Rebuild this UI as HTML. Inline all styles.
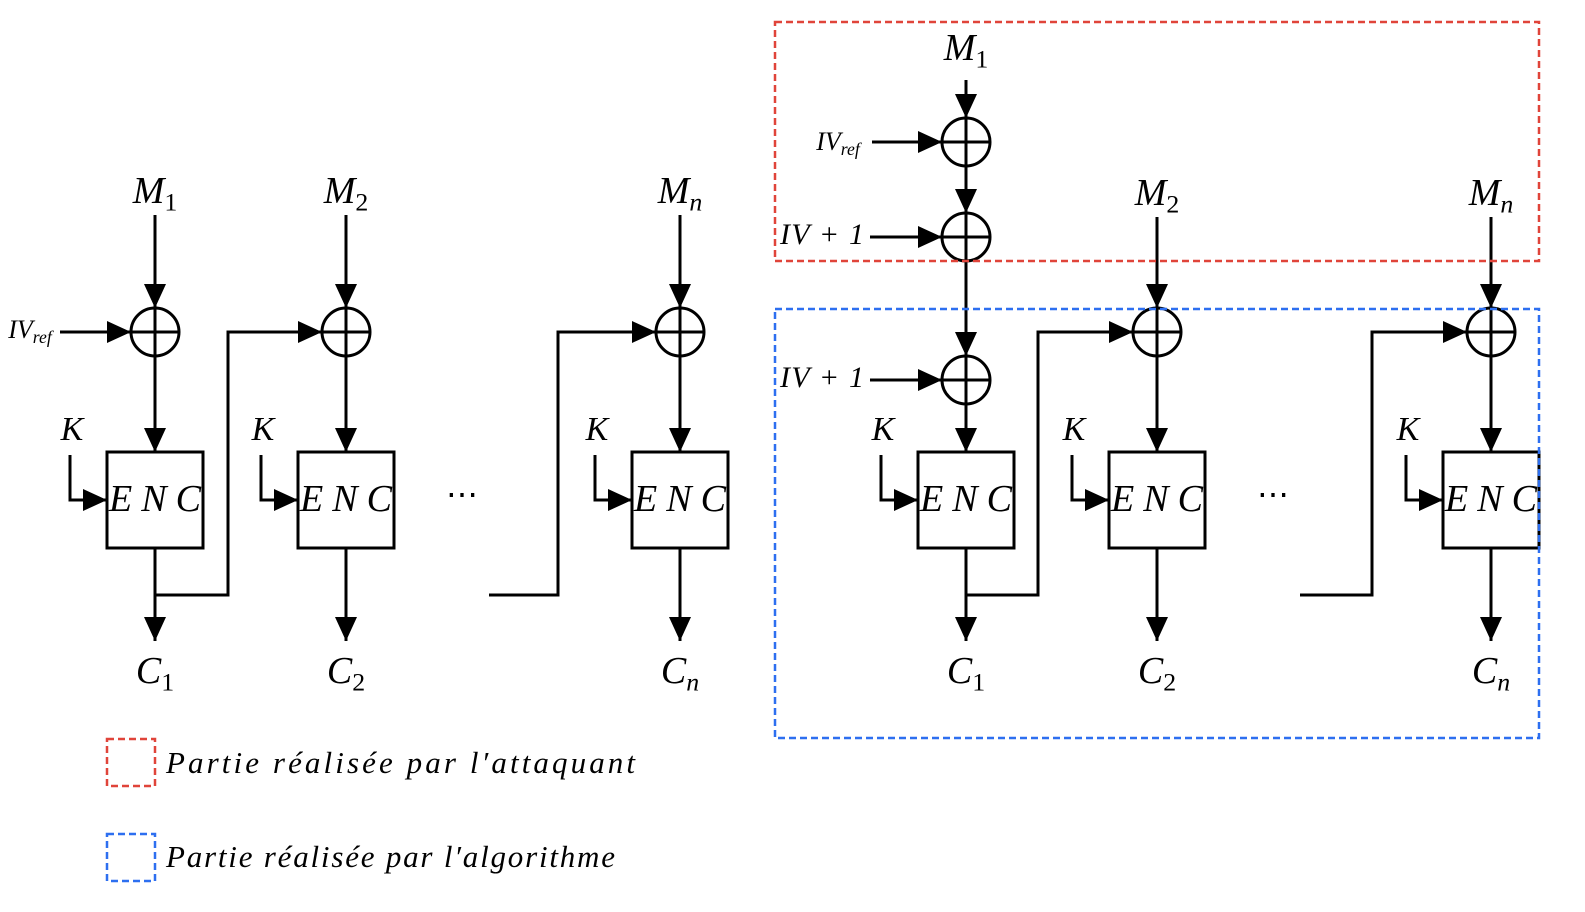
<!DOCTYPE html>
<html><head><meta charset="utf-8"><style>
html,body{margin:0;padding:0;background:#fff;}
svg{display:block;}
text{font-family:"Liberation Serif",serif;font-style:italic;fill:#000;}
.up{font-style:normal;}
</style></head><body>
<svg width="1585" height="912" viewBox="0 0 1585 912">
<defs>
<marker id="ah" markerWidth="24" markerHeight="22" refX="24" refY="11" orient="auto" markerUnits="userSpaceOnUse">
<path d="M0,0 L24,11 L0,22 Z" fill="#000"/>
</marker>
</defs>
<g id="g" stroke="#000" stroke-width="3" fill="none"></g>
<g id="t"></g>
<rect x="775" y="22" width="764" height="239" fill="none" stroke="#e0443a" stroke-width="2.5" stroke-dasharray="7,4"/>
<rect x="775" y="309" width="764" height="429" fill="none" stroke="#2d6ff0" stroke-width="2.5" stroke-dasharray="7,4"/>
<rect x="107" y="739" width="48" height="47" fill="none" stroke="#e0443a" stroke-width="2.5" stroke-dasharray="7,4"/>
<rect x="107" y="834" width="48" height="47" fill="none" stroke="#2d6ff0" stroke-width="2.5" stroke-dasharray="7,4"/>
<text x="166" y="773" font-size="31" textLength="469" lengthAdjust="spacing">Partie réalisée par l′attaquant</text>
<text x="166" y="867" font-size="31" textLength="449" lengthAdjust="spacing">Partie réalisée par l′algorithme</text>
</svg>
<script>
const NS="http://www.w3.org/2000/svg";
const g=document.getElementById('g'), t=document.getElementById('t');
function el(tag,attrs,parent){const e=document.createElementNS(NS,tag);for(const k in attrs)e.setAttribute(k,attrs[k]);(parent||g).appendChild(e);return e;}
function line(pts,arrow,name){const e=el('polyline',{points:pts.map(p=>p.join(',')).join(' ')});if(arrow)e.setAttribute('marker-end','url(#ah)');

return e;}
function xor(x,y,name){const c=el('g',{});


el('circle',{cx:x,cy:y,r:24},c);el('line',{x1:x-24,y1:y,x2:x+24,y2:y},c);el('line',{x1:x,y1:y-24,x2:x,y2:y+24},c);}
function label(x,y,main,sub,name,size){size=size||38;const e=el('text',{x:x,y:y,'font-size':size,'text-anchor':'middle'},t);
const a=document.createElementNS(NS,'tspan');a.textContent=main;e.appendChild(a);
if(sub){const b=document.createElementNS(NS,'tspan');b.setAttribute('font-size',size*0.68);b.setAttribute('dy',size*0.2);if(/\d/.test(sub))b.setAttribute('class','up');b.textContent=sub;e.appendChild(b);}

return e;}
function enc(x,name){const r=el('rect',{x:x-48,y:452,width:96,height:96});


const tx=el('text',{x:x-46,y:511,'font-size':38,textLength:92,lengthAdjust:'spacing'},t);tx.textContent='ENC';

}
function column(x,sub,mTop,idx,side){
 const p=side+'-block-'+idx;
 if(mTop!==null){label(x,mTop,'M',sub,p+'-plaintext');line([[x,mTop+12],[x,308]],true,p+'-plaintext-arrow');}
 xor(x,332,p+'-xor');
 line([[x,356],[x,452]],true,p+'-xor-to-enc');
 enc(x,p+'-enc');
 line([[x,548],[x,641]],true,p+'-output-arrow');
 label(x,683,'C',sub,p+'-ciphertext');
 label(x-83,440,'K','',p+'-key-label',34);
 line([[x-85,455],[x-85,500],[x-48,500]],true,p+'-key-arrow');
}
const cols=[{x:155,s:'1'},{x:346,s:'2'},{x:680,s:'n'}];
cols.forEach((c,i)=>column(c.x,c.s,203,i+1,'left'));
label(30,338,'IV','ref','left-iv-label',26);
line([[60,332],[131,332]],true,'left-iv-arrow');
line([[155,595],[228,595],[228,332],[322,332]],true,'left-chain-1');
line([[489,595],[558,595],[558,332],[656,332]],true,'left-chain-n');
const d1=el('text',{x:462,y:505,'font-size':32,'text-anchor':'middle','class':'up'},t);d1.textContent='⋯';


column(1157,'2',205,2,'right');column(1491,'n',205,3,'right');
label(966,60,'M','1','right-block-1-plaintext');
line([[966,80],[966,118]],true,'right-m1-arrow');
xor(966,142,'right-iv-ref-xor');
label(838,150,'IV','ref','right-iv-ref-label',26);
line([[872,142],[942,142]],true,'right-iv-ref-arrow');
line([[966,166],[966,213]],true,'right-xor-to-xor');
xor(966,237,'right-iv-plus-1-xor');
const l1=el('text',{x:780,y:244,'font-size':30,textLength:84,lengthAdjust:'spacing'},t);l1.textContent='IV + 1';


line([[870,237],[942,237]],true,'right-iv-plus-1-arrow-top');
line([[966,261],[966,356]],true,'right-down-arrow');
xor(966,380,'right-iv-plus-1-xor-2');
const l2=el('text',{x:780,y:387,'font-size':30,textLength:84,lengthAdjust:'spacing'},t);l2.textContent='IV + 1';


line([[870,380],[942,380]],true,'right-iv-plus-1-arrow-bottom');
line([[966,404],[966,452]],true,'right-block-1-xor-to-enc');
enc(966,'right-block-1-enc');
line([[966,548],[966,641]],true,'right-block-1-output-arrow');
label(966,683,'C','1','right-block-1-ciphertext');
label(883,440,'K','','right-block-1-key-label',34);
line([[881,455],[881,500],[918,500]],true,'right-block-1-key-arrow');
line([[966,595],[1038,595],[1038,332],[1133,332]],true,'right-chain-1');
line([[1300,595],[1372,595],[1372,332],[1467,332]],true,'right-chain-n');
const d2=el('text',{x:1273,y:505,'font-size':32,'text-anchor':'middle','class':'up'},t);d2.textContent='⋯';


</script>
</body></html>
